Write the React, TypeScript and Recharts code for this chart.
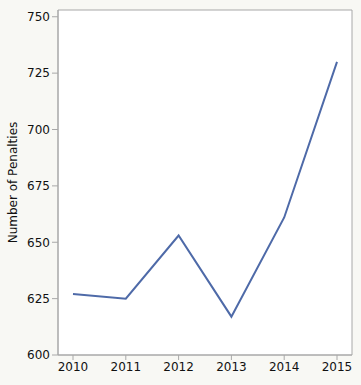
import React from 'react';
import { LineChart, Line, XAxis, YAxis, CartesianGrid } from 'recharts';

const years = ['2010', '2011', '2012', '2013', '2014', '2015'];
const penalties = [627, 625, 653, 617, 661, 730];
const yTicks = [600, 625, 650, 675, 700, 725, 750];

const data = years.map((year, i) => ({ year, penalties: penalties[i] }));

const FONT = '"DejaVu Sans", Verdana, sans-serif';
const AXIS = '#a8a8a8';

const YLabel = (props: any) => {
  const { viewBox } = props;
  const cy = viewBox.y + viewBox.height / 2;
  return (
    <text
      x={13}
      y={cy}
      transform={`rotate(-90, 13, ${cy})`}
      textAnchor="middle"
      dominantBaseline="central"
      fontFamily={FONT}
      fontSize={12}
      fill="#111"
    >
      Number of Penalties
    </text>
  );
};

// frame around the plot area, taken from the chart's own offset
const frameX = ({ offset }: any) => [offset.left, offset.left + offset.width];
const frameY = ({ offset }: any) => [offset.top, offset.top + offset.height];

export default function App() {
  return (
    <div style={{ position: 'fixed', left: 0, top: 0, width: 361, height: 385, background: '#f8f8f4' }}>
      <LineChart width={361} height={385} data={data} margin={{ top: 10, right: 9, bottom: 0, left: 0 }}>
        <CartesianGrid
          fill="#ffffff"
          stroke={AXIS}
          strokeDasharray=""
          verticalCoordinatesGenerator={frameX}
          horizontalCoordinatesGenerator={frameY}
        />
        <XAxis
          dataKey="year"
          padding={{ left: 15, right: 15 }}
          height={30}
          tickLine={{ stroke: AXIS }}
          tickSize={5}
          axisLine={{ stroke: AXIS }}
          tick={{ fill: '#111', fontFamily: FONT, fontSize: 12 }}
          interval={0}
        />
        <YAxis
          domain={[600, 753]}
          ticks={yTicks}
          width={58}
          allowDataOverflow
          tickLine={{ stroke: AXIS }}
          tickSize={6}
          axisLine={{ stroke: AXIS }}
          tick={{ fill: '#111', fontFamily: FONT, fontSize: 12 }}
          label={<YLabel />}
        />
        <Line
          type="linear"
          dataKey="penalties"
          stroke="#4e6aa8"
          strokeWidth={2}
          dot={false}
          isAnimationActive={false}
        />
      </LineChart>
    </div>
  );
}
